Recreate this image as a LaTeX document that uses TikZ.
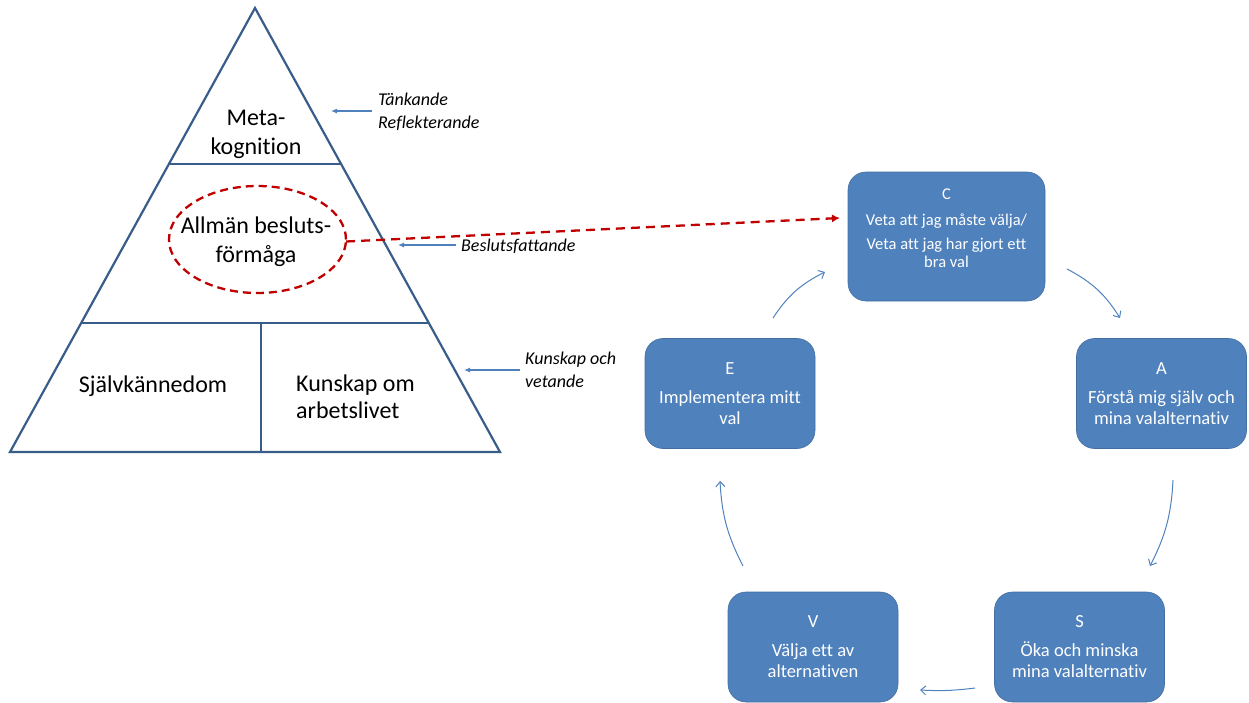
\documentclass[tikz,border=0pt]{standalone}
\usepackage{fontspec}
\setmainfont{Carlito}[Ligatures=NoCommon]
\usetikzlibrary{arrows.meta,shapes.geometric,calc}
\definecolor{tri}{HTML}{385D8A}
\definecolor{boxblue}{HTML}{4F81BD}
\definecolor{dred}{HTML}{C00000}
\begin{document}
\begin{tikzpicture}[x=1pt,y=-1pt,
  pyr/.style={font=\fontsize{24}{29}\selectfont,align=center,inner sep=0pt},
  pyrl/.style={font=\fontsize{24}{27}\selectfont,align=left,inner sep=0pt},
  note/.style={font=\fontsize{18}{23}\itshape\selectfont,align=left,inner sep=0pt,anchor=west},
  notearrow/.style={draw=boxblue,line width=1.1pt,-{Latex[length=6pt,width=5pt]}},
  stepbox/.style={draw=boxblue!85!black,line width=0.6pt,fill=boxblue,rounded corners=18pt,
    minimum width=170pt,minimum height=110pt,text=white,align=center,
    font=\fontsize{18.5}{21}\selectfont,inner sep=2pt},
  cyc/.style={draw=boxblue,line width=1pt,-{Straight Barb[length=5pt,width=9pt]}}]
\useasboundingbox (0,0) rectangle (1249,702);
% pyramid
\draw[tri,line width=2.2pt,line join=miter] (255,8) -- (500,452) -- (10,452) -- cycle;
\draw[tri,line width=2pt] (168,164) -- (342,164);
\draw[tri,line width=2pt] (82,323) -- (429,323);
\draw[tri,line width=2pt] (261,323) -- (261,452);
\node[pyr] (meta) at (256,134) {Meta-\\kognition};
\node[pyr] (allm) at (256,242) {Allmän besluts-\\förmåga};
\node[pyr] (self) at (153,386) {Självkännedom};
\node[pyrl,anchor=west] (kunsk) at (296,397) {Kunskap om\\arbetslivet};
\node[draw=dred,line width=2.3pt,dash pattern=on 8pt off 5pt,ellipse,minimum width=177pt,minimum height=107pt] (ell) at (257.5,239.5) {};
% notes
\node[note] (tank) at (378,112) {Tänkande\\Reflekterande};
\node[note] (besl) at (461,246) {Beslutsfattande};
\node[note] (kov) at (525,370) {Kunskap och\\vetande};
\coordinate (t1) at (331,111);
\coordinate (t2) at (398,245);
\coordinate (t3) at (464,370);
\draw[notearrow] (372,111) -- (t1);
\draw[notearrow] (besl.west) ++(-5,-1) -- (t2);
\draw[notearrow] (kov.west) ++(-5,0) -- (t3);
% boxes
\node[stepbox,minimum width=197pt,minimum height=129pt] (C) at (946.5,236.5) {};
\node[text=white,align=center,font=\fontsize{16.5}{17.5}\selectfont,inner sep=0pt] (Ctext) at (946.5,228)
  {C\\[8pt]Veta att jag måste välja/\\[7pt]Veta att jag har gjort ett\\bra val};
\node[stepbox] (E) at (730,393.5) {E\\[8pt]Implementera mitt\\val};
\node[stepbox] (A) at (1161.5,393.5) {A\\[8pt]Förstå mig själv och\\mina valalternativ};
\node[stepbox] (V) at (813,647) {V\\[8pt]Välja ett av\\alternativen};
\node[stepbox] (S) at (1079.5,647) {S\\[8pt]Öka och minska\\mina valalternativ};
% red dashed arrow
\coordinate (cin) at (840,218);
\draw[dred,line width=2.3pt,dash pattern=on 9pt off 6pt,-{Latex[length=8pt,width=8pt]}] (ell.east) ++(-1,2) -- (cin);
% cycle arrows
\coordinate (ca1) at (1067,269); \coordinate (ca2) at (1120,318);
\coordinate (as1) at (1173,480); \coordinate (as2) at (1150,566);
\coordinate (sv1) at (975,688); \coordinate (sv2) at (920,690);
\coordinate (ve1) at (743,566); \coordinate (ve2) at (720,481);
\coordinate (ec1) at (773,318); \coordinate (ec2) at (825,272);
\draw[cyc] (ca1) to[bend left=15] (ca2);
\draw[cyc] (as1) to[bend left=12] (as2);
\draw[cyc] (sv1) to[bend left=5] (sv2);
\draw[cyc] (ve1) to[bend left=12] (ve2);
\draw[cyc] (ec1) to[bend left=15] (ec2);
\end{tikzpicture}
\end{document}
